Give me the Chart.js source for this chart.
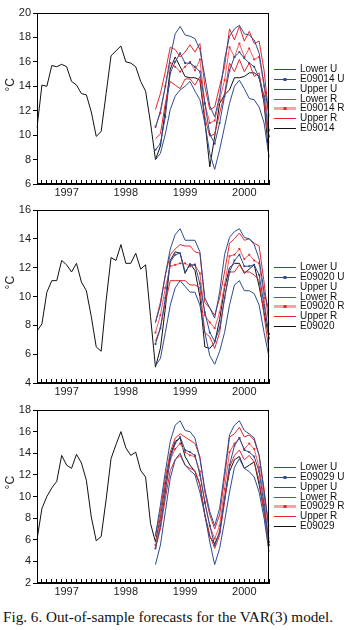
<!DOCTYPE html>
<html>
<head>
<meta charset="utf-8">
<script src="https://cdn.jsdelivr.net/npm/chart.js@4.4.1/dist/chart.umd.min.js"></script>
<style>
  body { margin: 0; background: #fff; width: 349px; height: 630px; position: relative; overflow: hidden; }
  .panel { position: absolute; left: 0; width: 349px; height: 200px; }
  #caption { position: absolute; left: 3px; top: 608px; font: 15.2px "Liberation Serif", "Times New Roman", serif; color: #111; white-space: nowrap; }
</style>
</head>
<body>
<div class="panel" style="top:0"><canvas id="c1" width="349" height="200"></canvas></div>
<div class="panel" style="top:200px"><canvas id="c2" width="349" height="200"></canvas></div>
<div class="panel" style="top:400px"><canvas id="c3" width="349" height="200"></canvas></div>
<div id="caption">Fig. 6. Out-of-sample forecasts for the VAR(3) model.</div>
<script>
// monthly observations 1997M01 .. 2000M12, forecasts start 1999M01
const years = ['1997', '1998', '1999', '2000'];
const months = [];
years.forEach(y => { for (let m = 1; m <= 12; m++) months.push(y + 'M' + String(m).padStart(2, '0')); });

// station E09014
const act14 = [10.6, 14.1, 14.0, 15.7, 15.6, 15.8, 15.6, 14.4, 14.1, 13.4, 13.3, 11.9,
               9.9, 10.3, 13.4, 16.5, 16.9, 17.3, 16.0, 15.9, 15.6, 14.4, 13.6, 11.0,
               8.0, 9.1, 12.1, 15.4, 16.4, 15.6, 14.8, 14.7, 14.7, 14.5, 11.2, 7.4,
               9.9, 12.6, 13.3, 13.7, 14.7, 14.7, 14.8, 15.1, 15.1, 14.8, 12.6, 8.2];
const lowU14 = [8.0, 8.5, 10.1, 12.1, 13.2, 13.7, 14.0, 14.4, 13.6, 12.9, 11.0, 8.5,
                7.2, 8.8, 10.7, 12.6, 14.0, 14.5, 13.8, 13.0, 12.9, 12.3, 11.0, 8.2];
const estU14 = [8.8, 9.3, 11.5, 15.1, 16.0, 16.7, 15.9, 15.9, 15.6, 15.2, 12.6, 10.1,
                9.3, 11.0, 13.2, 15.3, 16.4, 16.8, 16.3, 15.9, 15.6, 14.7, 13.2, 9.9];
const upU14 = [10.6, 12.0, 14.0, 16.4, 18.3, 18.9, 18.2, 18.1, 17.9, 17.0, 14.8, 12.4,
               11.5, 13.2, 16.2, 18.1, 18.7, 19.0, 18.3, 18.2, 17.8, 16.7, 14.2, 11.6];
const lowR14 = [9.7, 10.1, 12.6, 14.4, 14.1, 13.8, 14.6, 14.6, 14.1, 14.8, 11.5, 9.9,
                10.1, 11.8, 13.4, 15.9, 15.2, 16.2, 15.2, 15.9, 14.8, 15.1, 12.7, 9.3];
const estR14 = [10.7, 11.8, 14.0, 15.9, 15.6, 15.2, 15.6, 16.0, 15.3, 16.2, 12.6, 11.0,
                11.2, 12.9, 14.5, 17.2, 16.4, 17.5, 16.4, 17.1, 16.2, 16.4, 14.0, 10.4];
const upR14 = [12.1, 13.4, 15.2, 17.2, 17.0, 16.4, 16.8, 17.4, 16.8, 17.5, 14.0, 12.1,
               12.3, 14.0, 15.6, 18.7, 17.8, 18.9, 17.7, 18.5, 17.5, 17.7, 15.3, 11.5];

// station E09020
const act20 = [7.6, 8.1, 10.3, 11.1, 11.1, 12.5, 12.2, 11.7, 12.3, 11.0, 10.4, 8.6,
               6.5, 6.2, 9.7, 12.7, 12.5, 13.6, 12.3, 12.3, 13.0, 11.9, 12.2, 8.6,
               5.1, 6.4, 9.2, 12.5, 13.1, 13.0, 11.6, 12.3, 11.8, 10.0, 6.5, 6.4,
               6.8, 8.4, 10.6, 12.0, 12.3, 12.3, 11.6, 11.9, 12.2, 10.7, 8.9, 7.1];
const lowU20 = [5.2, 5.7, 7.5, 9.4, 10.6, 11.1, 10.7, 10.3, 10.3, 9.4, 7.5, 5.9,
                5.3, 6.2, 7.5, 9.4, 10.8, 11.1, 10.4, 10.4, 10.2, 9.4, 7.5, 5.8];
const estU20 = [6.7, 7.8, 9.9, 12.4, 12.9, 13.0, 11.7, 12.2, 12.2, 10.9, 8.9, 7.5,
                6.9, 7.8, 9.9, 11.7, 12.5, 12.9, 12.1, 12.1, 12.2, 11.5, 9.4, 7.4];
const upU20 = [8.2, 9.4, 11.5, 13.3, 14.3, 14.7, 13.9, 13.9, 13.9, 13.1, 9.9, 9.2,
               8.5, 10.3, 12.9, 14.1, 14.5, 14.7, 14.1, 14.0, 13.6, 12.6, 10.3, 9.0];
const lowR20 = [6.9, 7.8, 9.6, 11.1, 11.1, 11.1, 11.1, 10.8, 10.8, 10.6, 7.5, 7.2,
                6.4, 7.5, 9.9, 11.7, 11.7, 12.2, 11.7, 11.7, 11.5, 11.1, 8.7, 6.2];
const estR20 = [7.5, 8.7, 10.6, 12.1, 12.2, 12.3, 12.3, 12.1, 12.2, 11.6, 8.7, 8.2,
                7.8, 8.9, 10.8, 12.8, 12.9, 13.3, 12.6, 12.9, 12.5, 12.3, 9.9, 7.1];
const upR20 = [8.2, 9.6, 11.5, 12.9, 13.3, 13.6, 13.5, 13.5, 13.1, 13.0, 9.6, 9.2,
               8.7, 9.9, 11.7, 13.7, 14.0, 14.4, 13.9, 14.0, 13.7, 13.5, 11.0, 8.0];

// station E09029
const act29 = [6.0, 8.9, 10.0, 10.8, 11.4, 13.8, 12.9, 12.6, 13.9, 13.1, 11.5, 8.1,
               5.9, 6.3, 9.7, 13.5, 14.8, 16.0, 14.5, 13.8, 14.1, 12.4, 11.8, 7.5,
               5.8, 8.0, 11.1, 13.8, 15.1, 15.4, 13.7, 12.9, 12.3, 11.1, 8.3, 6.3,
               5.6, 6.7, 9.8, 12.3, 13.4, 13.7, 12.6, 12.9, 13.2, 11.1, 8.6, 6.1];
const lowU29 = [3.7, 5.5, 8.6, 11.7, 13.4, 14.0, 12.9, 12.4, 12.0, 10.4, 8.3, 5.8,
                3.7, 5.2, 7.7, 10.4, 12.7, 13.5, 12.6, 12.3, 11.8, 10.4, 8.0, 4.9];
const estU29 = [5.2, 7.3, 10.4, 13.5, 14.9, 15.5, 14.3, 14.1, 13.8, 12.0, 9.5, 7.3,
                5.5, 6.7, 9.8, 12.9, 14.7, 15.4, 14.3, 14.1, 13.7, 12.3, 9.2, 5.5];
const upU29 = [6.4, 9.2, 12.3, 15.1, 16.6, 17.0, 16.1, 16.0, 15.4, 13.5, 10.7, 8.6,
               7.3, 8.9, 12.3, 15.7, 16.6, 17.0, 16.1, 15.8, 15.4, 13.8, 10.4, 7.2];
const lowR29 = [5.2, 7.0, 9.8, 12.4, 13.4, 13.8, 12.9, 12.6, 12.4, 11.1, 8.3, 6.4,
                5.2, 6.4, 9.5, 12.7, 13.8, 14.3, 13.4, 13.8, 13.2, 11.5, 8.6, 4.9];
const estR29 = [5.5, 7.8, 10.7, 13.4, 14.4, 14.9, 14.1, 13.8, 13.7, 12.3, 9.4, 7.3,
                6.1, 7.3, 10.7, 14.1, 14.9, 15.4, 14.4, 14.9, 14.4, 12.7, 9.8, 5.8];
const upR29 = [6.3, 8.6, 11.7, 14.1, 15.4, 15.8, 15.5, 15.2, 14.9, 13.7, 10.4, 8.3,
               7.0, 8.3, 11.7, 15.5, 15.8, 16.4, 15.5, 15.7, 15.2, 13.8, 10.7, 6.7];

const BLUE = '#2e4b8f';
const RED = '#e2272d';
const PINK = '#ee5a60';
const BLACK = '#111111';

Chart.defaults.font.family = '"Liberation Sans", Arial, sans-serif';
Chart.defaults.font.size = 11;
Chart.defaults.color = '#222';

const fc = v => Array(months.length - v.length).fill(null).concat(v);

// frame round the plot area and the unit label
const framePlugin = {
  id: 'frame',
  afterDraw(chart) {
    const a = chart.chartArea, ctx = chart.ctx;
    ctx.save();
    ctx.strokeStyle = '#000';
    ctx.lineWidth = 1;
    ctx.strokeRect(Math.round(a.left) + 0.5, Math.round(a.top) + 0.5,
                   Math.round(a.right - a.left) - 1, Math.round(a.bottom - a.top) - 1);
    ctx.fillStyle = '#222';
    ctx.font = '12px "Liberation Sans", Arial, sans-serif';
    ctx.translate(11, a.top + (a.bottom - a.top) * 0.42);
    ctx.rotate(-Math.PI / 2);
    ctx.textAlign = 'center';
    ctx.textBaseline = 'middle';
    ctx.fillText('°C', 0, 0);
    ctx.restore();
  }
};

// compact legend to the right of the plot
const sideLegend = {
  id: 'sideLegend',
  afterDraw(chart) {
    const a = chart.chartArea, ctx = chart.ctx;
    const sets = chart.data.datasets;
    const step = 9.8;
    const y0 = (a.top + a.bottom) / 2 - (sets.length - 1) * step / 2;
    const x0 = a.right + 5;
    ctx.save();
    ctx.font = '10px "Liberation Sans", Arial, sans-serif';
    ctx.textBaseline = 'middle';
    ctx.textAlign = 'left';
    sets.forEach((ds, i) => {
      const y = Math.round(y0 + i * step) + 0.5;
      ctx.strokeStyle = ds.legendLine || ds.borderColor;
      ctx.lineWidth = ds.legendWidth || 1;
      ctx.beginPath();
      ctx.moveTo(x0, y);
      ctx.lineTo(x0 + 22, y);
      ctx.stroke();
      if (ds.legendMarker) {
        ctx.fillStyle = ds.legendMarker;
        ctx.fillRect(x0 + 11 - 1.5, y - 1.5, 3, 3);
      }
      ctx.fillStyle = '#111';
      ctx.fillText(ds.label, x0 + 26, y);
    });
    ctx.restore();
  }
};

function makeChart(id, station, actual, lowU, estU, upU, lowR, estR, upR, yMin, yMax, padTop, xHeight) {
  const line = (label, data, color, extra) => Object.assign({
    label, data, borderColor: color, backgroundColor: color,
    borderWidth: 1, pointRadius: 0, tension: 0
  }, extra || {});
  new Chart(document.getElementById(id), {
    type: 'line',
    data: {
      labels: months,
      datasets: [
        line('Lower U', fc(lowU), BLUE),
        line(station + ' U', fc(estU), BLUE, { pointRadius: 1.3, pointStyle: 'rect', pointBorderWidth: 0, legendMarker: BLUE }),
        line('Upper U', fc(upU), BLUE),
        line('Lower R', fc(lowR), RED),
        line(station + ' R', fc(estR), PINK, { pointRadius: 1.3, pointStyle: 'rect', pointBorderWidth: 0, pointBackgroundColor: RED,
                                               legendMarker: RED, legendLine: '#f4a3a6', legendWidth: 3 }),
        line('Upper R', fc(upR), RED),
        line(station, actual, BLACK)
      ]
    },
    options: {
      responsive: false,
      animation: false,
      events: [],
      devicePixelRatio: 1,
      layout: { padding: { top: padTop, right: 80, bottom: 0, left: 0 } },
      plugins: {
        tooltip: { enabled: false },
        legend: { display: false }
      },
      scales: {
        x: {
          type: 'category',
          offset: false,
          grid: { drawOnChartArea: false, drawTicks: true, tickLength: -4, color: '#000' },
          border: { color: '#000' },
          ticks: {
            autoSkip: false, maxRotation: 0, padding: 6, color: '#222',
            callback: (v, i) => (i % 12 === 6 ? years[Math.floor(i / 12)] : '')
          },
          afterFit: s => { s.height = xHeight; }
        },
        y: {
          min: yMin, max: yMax,
          grid: { drawOnChartArea: false, tickLength: 4, color: '#000' },
          border: { color: '#000' },
          ticks: { stepSize: 2, padding: 2, color: '#222' },
          afterFit: s => { s.width = 37; }
        }
      }
    },
    plugins: [framePlugin, sideLegend]
  });
}

makeChart('c1', 'E09014', act14, lowU14, estU14, upU14, lowR14, estR14, upR14, 6, 20, 13, 16);
makeChart('c2', 'E09020', act20, lowU20, estU20, upU20, lowR20, estR20, upR20, 4, 16, 10, 17);
makeChart('c3', 'E09029', act29, lowU29, estU29, upU29, lowR29, estR29, upR29, 2, 18, 10, 17);
</script>
</body>
</html>
